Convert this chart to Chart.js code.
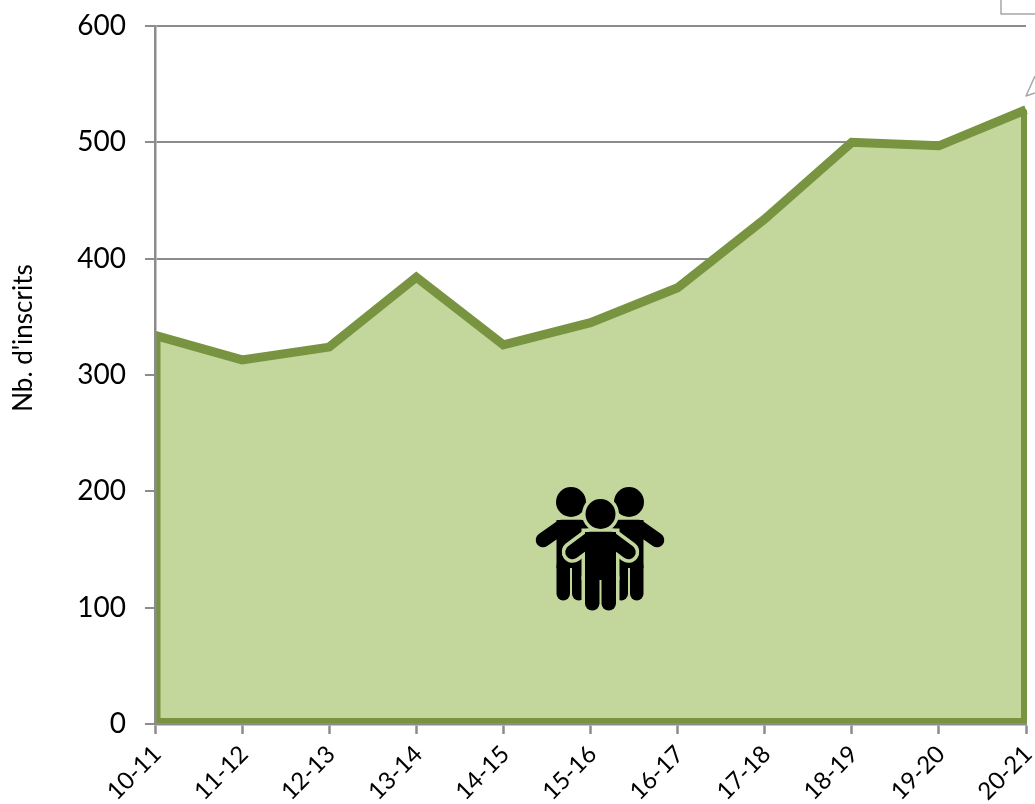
<!DOCTYPE html>
<html><head><meta charset="utf-8">
<style>html,body{margin:0;padding:0;background:#fff}#w{width:1035px;height:804px;position:relative}</style>
<script src="https://cdn.jsdelivr.net/npm/chart.js@4"></script>
</head><body><div id="w"><canvas id="c" width="1035" height="804"></canvas></div>
<script>
const categories = ['10-11','11-12','12-13','13-14','14-15','15-16','16-17','17-18','18-19','19-20','20-21'];
const inscrits = [334,313,324,384,326,345,375,434,500,497,528];
const yTitle = "Nb. d'inscrits";
const GREEN='#789440', FILL='#c3d69b', GRID='#8c8c8c', FONT='Lato, "Open Sans", sans-serif';

function path(ctx,pts){ctx.beginPath();pts.forEach((p,i)=>i?ctx.lineTo(p[0],p[1]):ctx.moveTo(p[0],p[1]));}
function person(ctx,cx,cy,col,grow,w,armX,armY,shY,legEnd,gapTop){
  ctx.strokeStyle=col;ctx.fillStyle=col;ctx.lineCap='round';ctx.lineJoin='round';
  ctx.beginPath();ctx.arc(cx,cy,15+grow,0,Math.PI*2);ctx.fill();
  ctx.lineWidth=14.5+grow*2;
  path(ctx,[[cx-armX,shY+armY],[cx-w+5,shY+7],[cx+w-5,shY+7],[cx+armX,shY+armY]]);ctx.stroke();
  ctx.fillRect(cx-w-grow,shY-grow,2*w+2*grow,gapTop-shY+grow);
  ctx.lineWidth=(w-1)+grow*2;
  path(ctx,[[cx-w/2-.5,gapTop-2],[cx-w/2-.5,legEnd-w/2]]);ctx.stroke();
  path(ctx,[[cx+w/2+.5,gapTop-2],[cx+w/2+.5,legEnd-w/2]]);ctx.stroke();
}
const deco={id:'deco',
  afterDatasetsDraw(ch){
    const {ctx,scales:{x,y}}=ch;
    const x0=x.getPixelForValue(0),x1=x.getPixelForValue(categories.length-1),yb=y.getPixelForValue(0);
    ctx.save();
    ctx.strokeStyle=GREEN;ctx.lineWidth=6;ctx.lineJoin='miter';ctx.lineCap='butt';
    path(ctx,[[x0+2.5,y.getPixelForValue(inscrits[0])],[x0+2.5,yb-3],[x1-2,yb-3],[x1-2,y.getPixelForValue(inscrits[inscrits.length-1])]]);
    ctx.stroke();
    // pictogram
    const c=x.getPixelForValue(5)+10, t=yb-222;
    person(ctx,c-29.5,t,'#000',0,14.5,28,20,t+18,t+99,t+66);
    person(ctx,c+28.5,t,'#000',0,14.5,28,20,t+18,t+99,t+66);
    person(ctx,c,t+12,FILL,3.5,15.5,28,20,t+30,t+109,t+78);
    person(ctx,c,t+12,'#000',0,15.5,28,20,t+30,t+109,t+78);
    // callout fragments clipped by the page edge
    ctx.strokeStyle='#a6a6a6';ctx.lineWidth=1.5;ctx.lineCap='butt';
    path(ctx,[[1001,0],[1001,14],[1035,14]]);ctx.stroke();
    path(ctx,[[1035,76],[1026,96],[1035,93]]);ctx.stroke();
    // vertical axis title
    ctx.translate(24,338);ctx.rotate(-Math.PI/2);
    ctx.fillStyle='#000';ctx.font='26px '+FONT;ctx.textAlign='center';ctx.textBaseline='middle';
    ctx.fillText(yTitle,0,0);
    ctx.restore();
  }};
new Chart(document.getElementById('c'),{
  type:'line',
  data:{labels:categories,datasets:[{data:inscrits,borderColor:GREEN,backgroundColor:FILL,borderWidth:9,fill:'origin',pointRadius:0,tension:0,borderJoinStyle:'miter',borderCapStyle:'butt',clip:false}]},
  plugins:[deco],
  options:{responsive:false,animation:false,devicePixelRatio:1,
    layout:{padding:{top:26,right:9,left:0,bottom:0}},
    plugins:{legend:{display:false},tooltip:{enabled:false},title:{display:false}},
    scales:{
      x:{offset:false,
        afterFit(s){s.height=80;s.paddingLeft=0;s.paddingRight=0;},
        grid:{display:true,drawOnChartArea:false,drawTicks:true,tickLength:10,tickColor:GRID,tickWidth:2.5},
        border:{display:true,color:GRID,width:2.5,z:1},
        ticks:{autoSkip:false,maxRotation:45,minRotation:45,padding:6,labelOffset:2,color:'#000',font:{family:FONT,size:24}}},
      y:{min:0,max:600,
        afterFit(s){s.width=155;s.paddingTop=0;s.paddingBottom=0;},
        grid:{color:GRID,lineWidth:2,drawTicks:true,tickLength:10,tickColor:GRID,tickWidth:2},
        border:{display:true,color:GRID,width:2.5,z:1},
        ticks:{stepSize:100,padding:19,color:'#000',font:{family:FONT,size:28}}}
    }}
});
</script></body></html>
